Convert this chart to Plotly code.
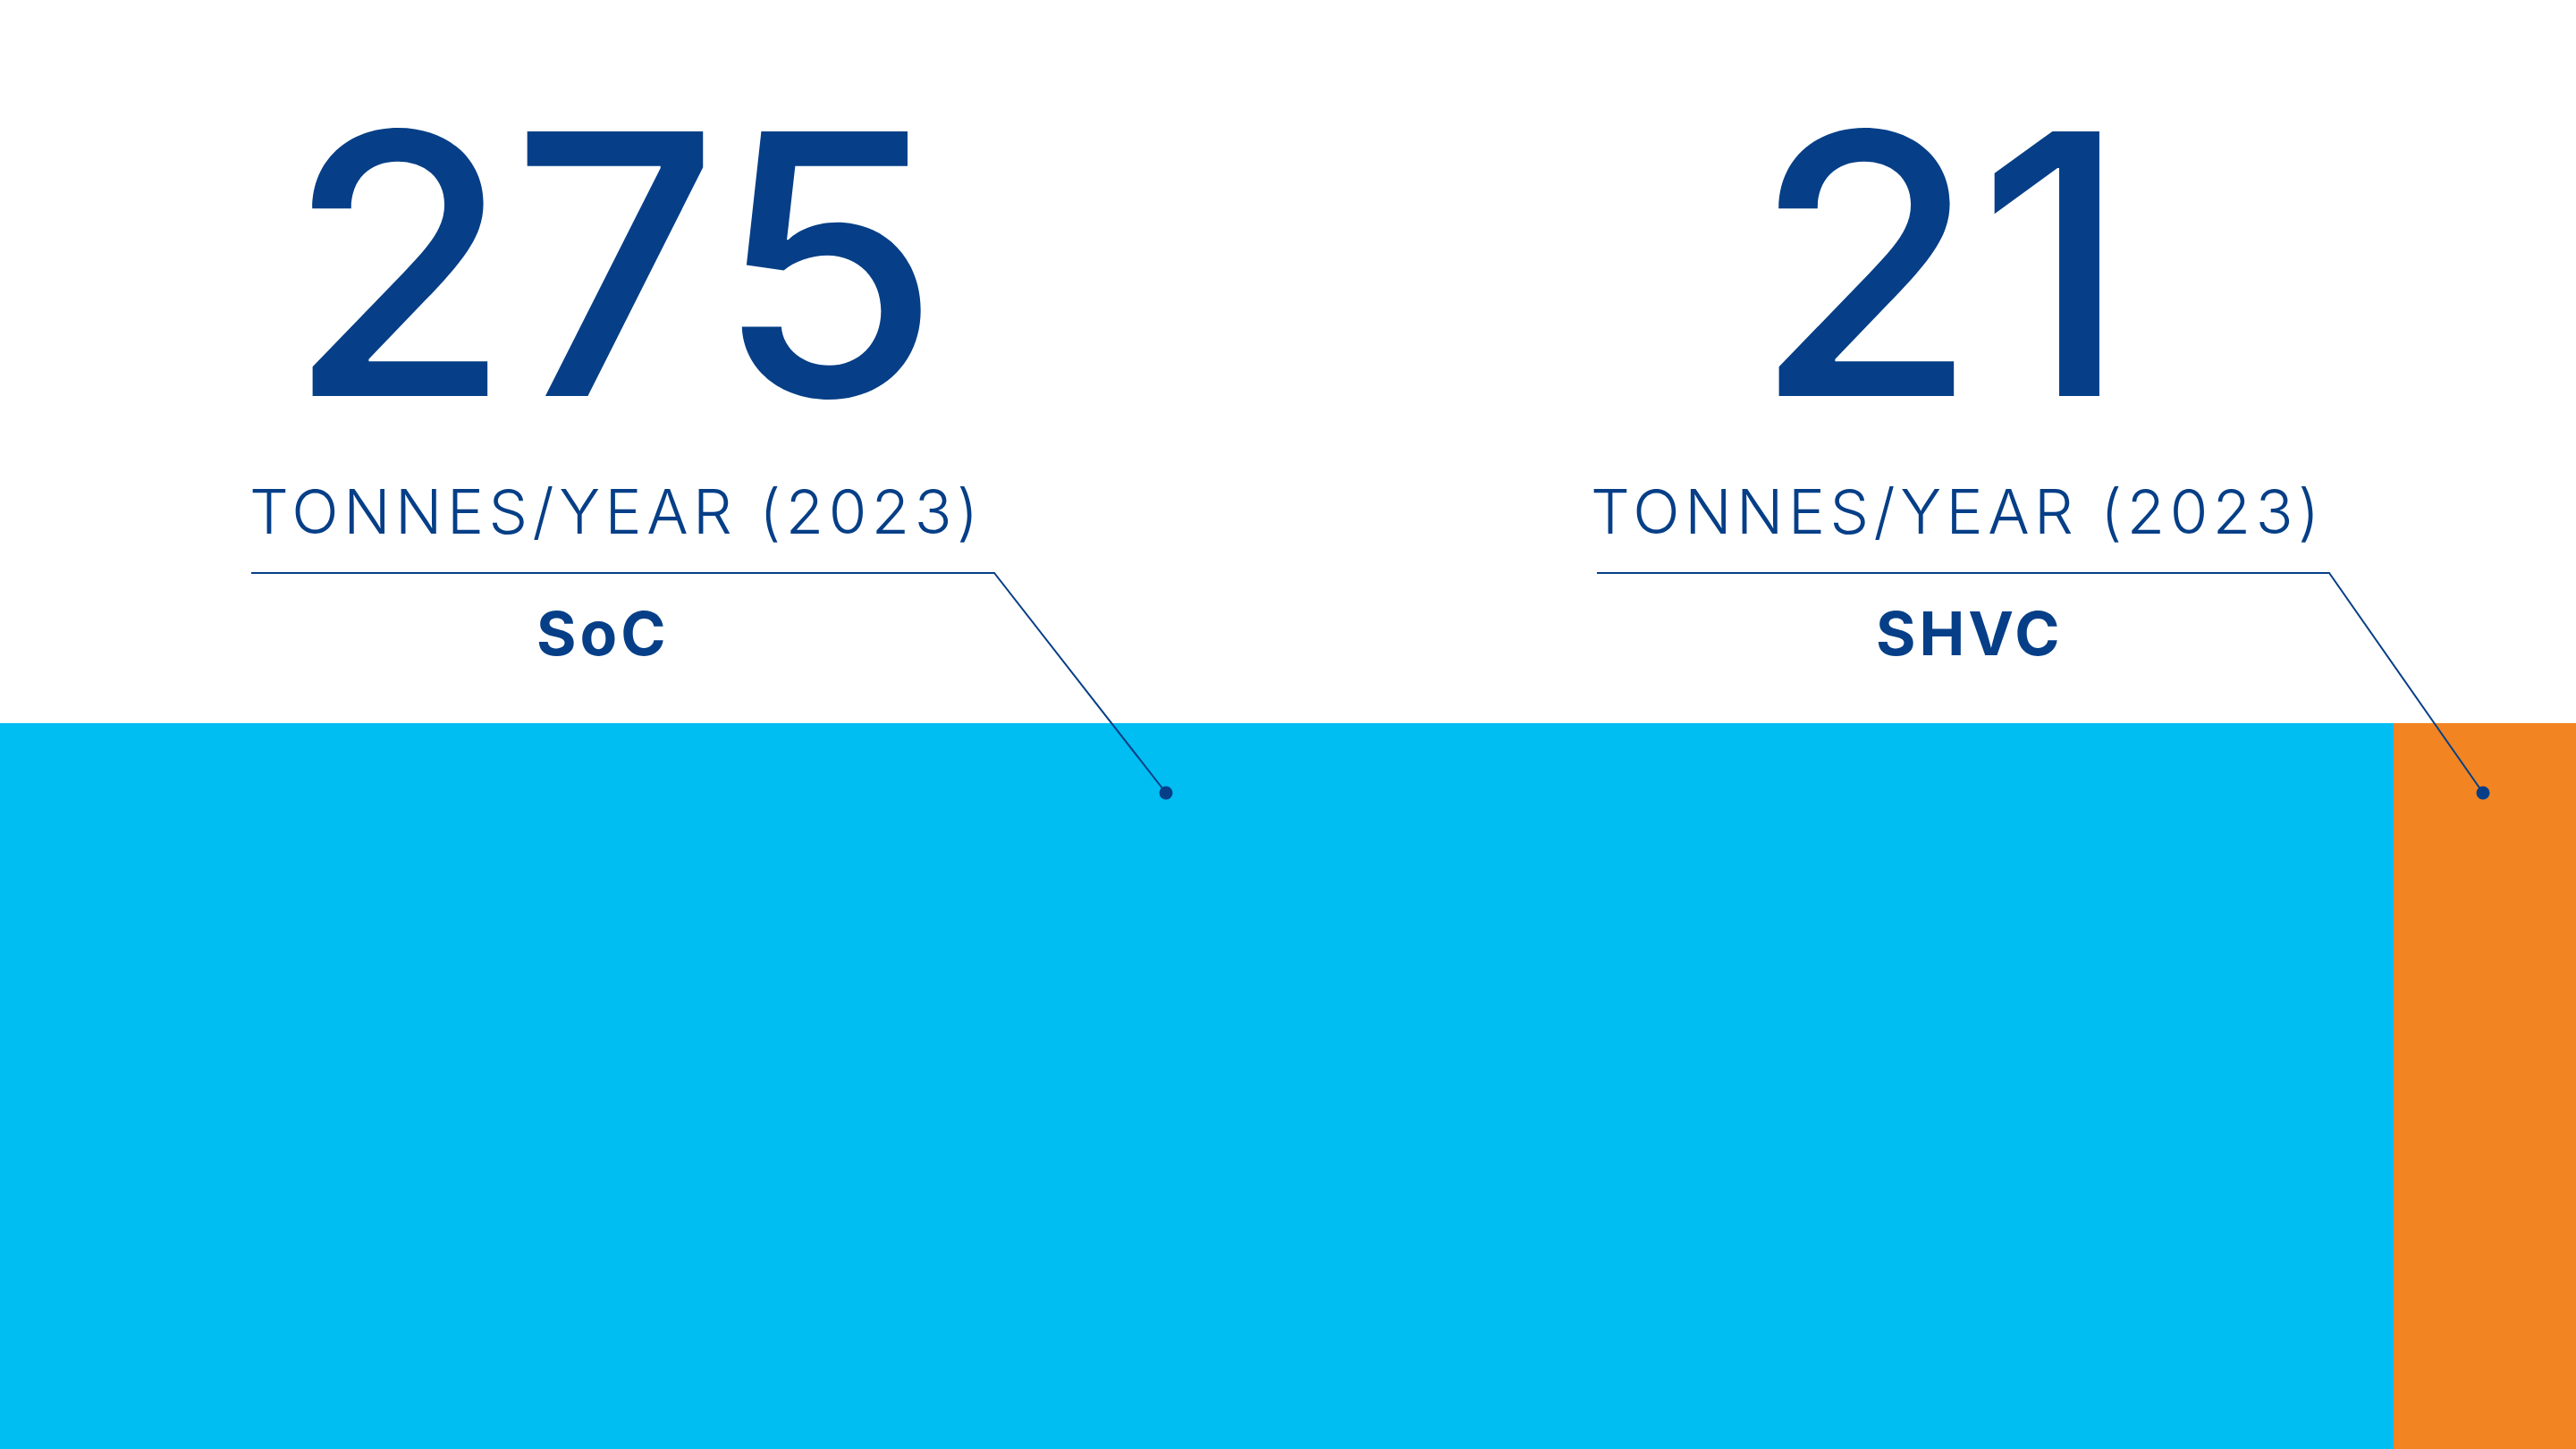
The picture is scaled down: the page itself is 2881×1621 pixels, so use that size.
import plotly.graph_objects as go

# ---- data ----
categories = ["SoC", "SHVC"]
values = [275, 21]
unit_label = "TONNES/YEAR (2023)"
bar_colors = ["#00BDF2", "#F28421"]

# ---- layout constants ----
W, H = 2881, 1621
NAVY = "#063F87"
BAR_TOP_PX = 809


def px(x):
    return x / W


def py(y):
    return 1 - y / H


fig = go.Figure()
for name, val, col in zip(categories, values, bar_colors):
    fig.add_trace(go.Bar(
        x=[val], y=[""], orientation="h", name=name,
        marker=dict(color=col, line=dict(width=0)),
        hoverinfo="skip", showlegend=False,
    ))

total = sum(values)

# callout geometry (pixels): number centre x, label centre x, leader start x, corner x, dot x
callouts = [
    dict(num_x=686, unit_x=689, lab_x=674, line_x0=281, corner_x=1112, dot_x=1304),
    dict(num_x=2171, unit_x=2189, lab_x=2203, line_x0=1786, corner_x=2605, dot_x=2777),
]
LINE_Y = 641
DOT_Y = 887
DOT_R = 7.5

annotations = []
shapes = []
for name, val, c in zip(categories, values, callouts):
    annotations.append(dict(
        x=px(c["num_x"]), y=py(295.5), xref="paper", yref="paper",
        text=str(val), showarrow=False, xanchor="center", yanchor="middle",
        font=dict(family="Inter", size=407, color=NAVY, weight=500),
    ))
    annotations.append(dict(
        x=px(c["unit_x"]), y=py(571.5), xref="paper", yref="paper",
        text=f'<span style="letter-spacing:5.5px">{unit_label}</span>',
        showarrow=False, xanchor="center", yanchor="middle",
        font=dict(family="Inter", size=69, color=NAVY, weight=300),
    ))
    annotations.append(dict(
        x=px(c["lab_x"]), y=py(708), xref="paper", yref="paper",
        text=f'<span style="letter-spacing:4px"><b>{name}</b></span>',
        showarrow=False, xanchor="center", yanchor="middle",
        font=dict(family="Inter", size=68, color=NAVY),
    ))
    shapes.append(dict(
        type="path", xref="paper", yref="paper",
        path=(f"M {px(c['line_x0'])},{py(LINE_Y)} L {px(c['corner_x'])},{py(LINE_Y)} "
              f"L {px(c['dot_x'])},{py(DOT_Y)}"),
        line=dict(color=NAVY, width=2), layer="above",
    ))
    shapes.append(dict(
        type="circle", xref="paper", yref="paper",
        x0=px(c["dot_x"] - DOT_R), x1=px(c["dot_x"] + DOT_R),
        y0=py(DOT_Y + DOT_R), y1=py(DOT_Y - DOT_R),
        fillcolor=NAVY, line=dict(width=0), layer="above",
    ))

fig.update_layout(
    width=W, height=H,
    margin=dict(l=0, r=0, t=0, b=0),
    paper_bgcolor="white", plot_bgcolor="white",
    barmode="stack", bargap=0,
    xaxis=dict(range=[0, total], visible=False, fixedrange=True),
    yaxis=dict(range=[-0.5, 0.5], domain=[0, (H - BAR_TOP_PX) / H],
               visible=False, fixedrange=True),
    annotations=annotations, shapes=shapes,
)

fig.write_html(
    "out.html",
    config={"displayModeBar": False, "staticPlot": True},
    post_script="document.body.style.margin='0';document.body.style.overflow='hidden';",
)
